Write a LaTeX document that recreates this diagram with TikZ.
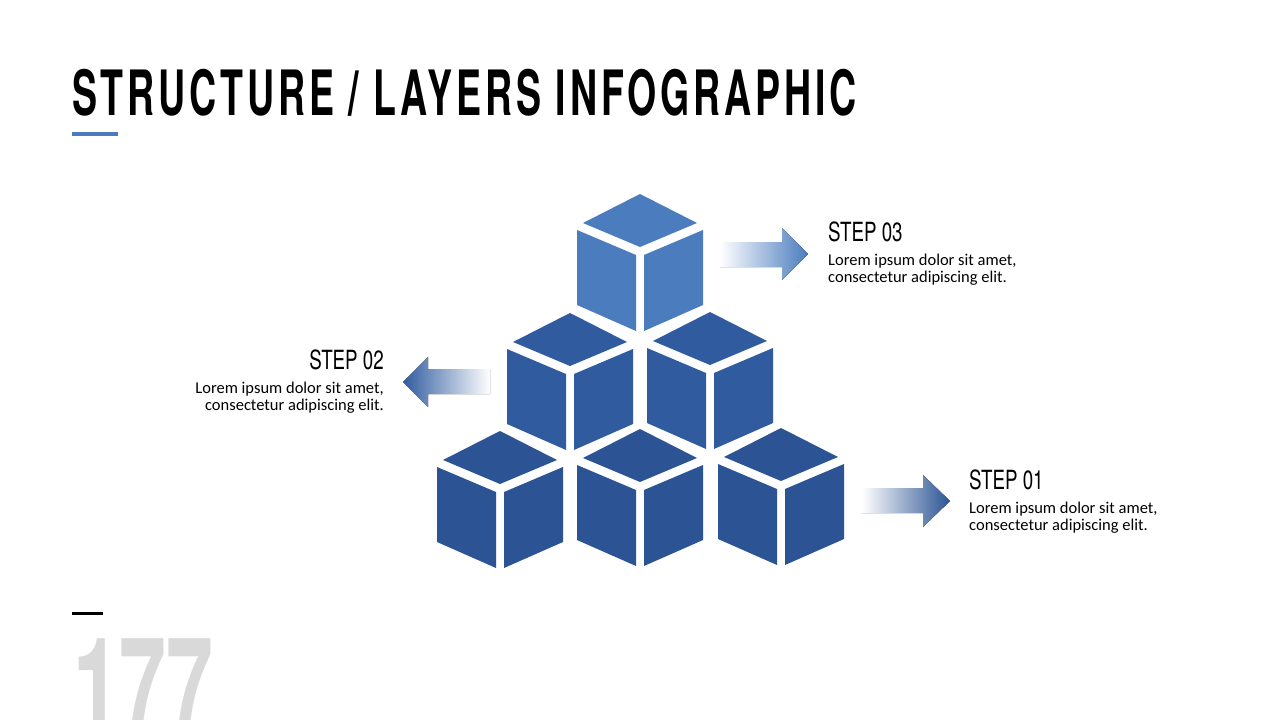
\documentclass[tikz,border=0pt]{standalone}
\usepackage{fontspec}
\setmainfont{Carlito}
\newfontfamily\titlefont{TeX Gyre Heros}[FakeStretch=0.6,LetterSpace=6.2]
\newfontfamily\headfont{TeX Gyre Heros}[FakeStretch=0.71]
\newfontfamily\numfont{TeX Gyre Heros}[FakeStretch=0.58]
\usetikzlibrary{positioning}
\definecolor{cubeA}{HTML}{4A7CBE}
\definecolor{cubeB}{HTML}{305C9F}
\definecolor{cubeC}{HTML}{2C5494}
\definecolor{pagegray}{HTML}{D9D9D9}

\begin{document}
\begin{tikzpicture}[x=1pt,y=-1pt,
  pics/cube/.style={code={
    \fill[#1] (0,7) -- (-57,36) -- (0,60) -- (57,36) -- cycle;
    \fill[#1] (-63,43) -- (-4,68) -- (-4,144) -- (-63,118) -- cycle;
    \fill[#1] (63,43) -- (4,68) -- (4,144) -- (63,118) -- cycle;
  }},
  fadeR/.style={left color=white,right color=#1},
  fadeL/.style={left color=#1,right color=white},
  stephead/.style={inner sep=0pt,font=\headfont\fontsize{26.4}{26}\selectfont},
  stepdesc/.style={inner sep=0pt,font=\fontsize{16.5}{17}\selectfont},
  titletext/.style={inner sep=0pt,font=\titlefont\bfseries\fontsize{62.5}{62}\selectfont}]
  \useasboundingbox (0,0) rectangle (1280,720);
  \clip (0,0) rectangle (1280,720);
  \fill[white] (0,0) rectangle (1280,720);

  \node[titletext,anchor=base west] (title) at (72,115) {STRUCTURE / LAYERS INFOGRAPHIC};
  \draw[cubeA,line width=4pt] (72,134) -- (118,134);

  \pic at (640,187) {cube=cubeA};
  \pic at (570,306) {cube=cubeB};
  \pic at (710,305) {cube=cubeB};
  \pic at (500,424) {cube=cubeC};
  \pic at (640,422) {cube=cubeC};
  \pic at (781,421) {cube=cubeC};

  \fill[fadeR=cubeA] (720,242) -- (782,242) -- (782,228) -- (808,254)
    -- (782,280) -- (782,267) -- (720,267) -- cycle;
  \fill[fadeL=cubeB] (490,369) -- (428,369) -- (428,357) -- (403,382)
    -- (428,407) -- (428,394) -- (490,394) -- cycle;
  \fill[fadeR=cubeC] (862,488) -- (923,488) -- (923,475) -- (950,501)
    -- (923,527) -- (923,513) -- (862,513) -- cycle;

  \node[stephead,anchor=base west] (S3) at (828,241) {STEP 03};
  \node[stepdesc,align=left]  (D3) [below right=12.4pt and 0pt of S3.base west] {Lorem ipsum dolor sit amet,\\consectetur adipiscing elit.};
  \node[stephead,anchor=base east] (S2) at (384,369) {STEP 02};
  \node[stepdesc,align=right] (D2) [below left=12.4pt and 0pt of S2.base east] {Lorem ipsum dolor sit amet,\\consectetur adipiscing elit.};
  \node[stephead,anchor=base west] (S1) at (969,489) {STEP 01};
  \node[stepdesc,align=left]  (D1) [below right=12.4pt and 0pt of S1.base west] {Lorem ipsum dolor sit amet,\\consectetur adipiscing elit.};

  \draw[black,line width=3pt] (72,613) -- (103,613);
  \node[inner sep=0pt,anchor=base west,text=pagegray,font=\numfont\bfseries\fontsize{145}{145}\selectfont] (page) at (73,741) {177};
\end{tikzpicture}
\end{document}
